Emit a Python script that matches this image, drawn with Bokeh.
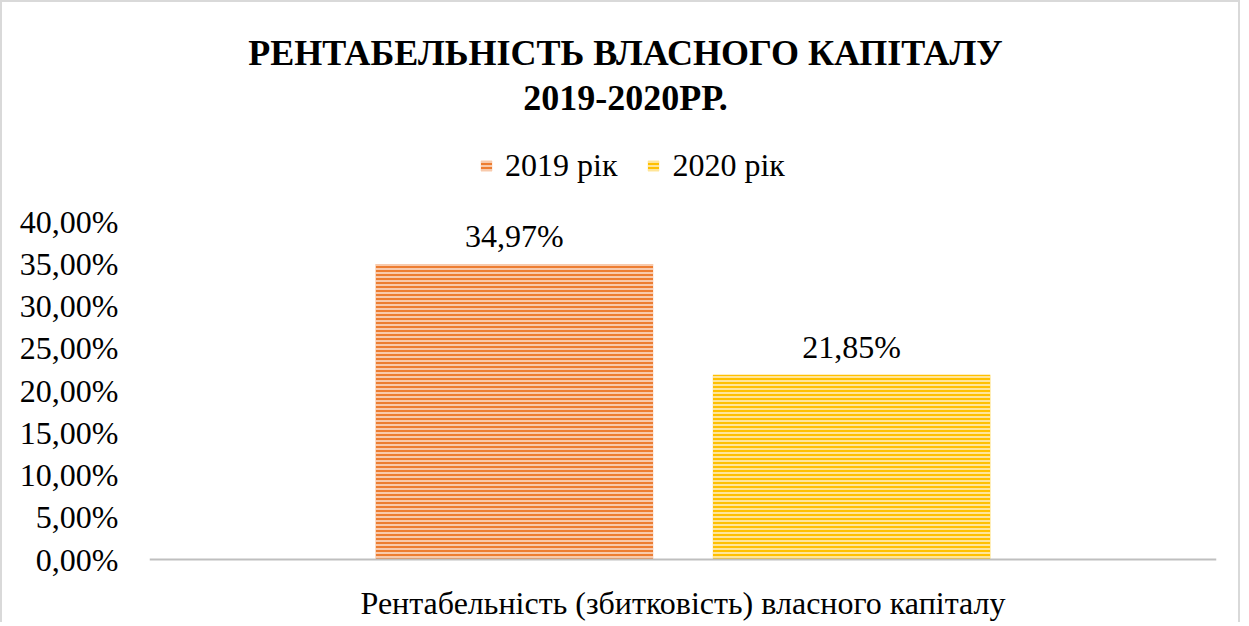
from bokeh.plotting import figure
from bokeh.models import ColumnDataSource, Legend, LegendItem, FixedTicker, LabelSet, Label
from bokeh.transform import dodge
from bokeh.embed import file_html
from bokeh.resources import INLINE

# ---- data ----
category = "Рентабельність (збитковість) власного капіталу"
series = ["2019 рік", "2020 рік"]
values = [34.97, 21.85]
colors_main = ["#ED7D31", "#FFC000"]
colors_light = ["#FCE4D6", "#FFF2CC"]
y_ticks = [0, 5, 10, 15, 20, 25, 30, 35, 40]
y_tick_labels = ["0,00%", "5,00%", "10,00%", "15,00%", "20,00%",
                 "25,00%", "30,00%", "35,00%", "40,00%"]
title_lines = ["РЕНТАБЕЛЬНІСТЬ ВЛАСНОГО КАПІТАЛУ", "2019-2020РР."]

FONT = "Liberation Serif"
FS = "32px"

# layout (pixels)
PX_PER_UNIT = 338 / 40
FRAME_H = 622
ZERO_FROM_TOP = 557
y_max = ZERO_FROM_TOP / PX_PER_UNIT
y_min = -(FRAME_H - ZERO_FROM_TOP) / PX_PER_UNIT

p = figure(x_range=[category], y_range=(y_min, y_max),
           width=1240, height=622, title=None,
           min_border_left=147, min_border_right=26,
           min_border_top=0, min_border_bottom=0,
           output_backend="svg", toolbar_location=None)

p.styles = {"border-left": "2px solid #D9D9D9",
            "border-top": "2px solid #D9D9D9",
            "border-right": "2px solid #D9D9D9"}

offsets = [-0.158, 0.158]
renderers = []
for i, (s, v) in enumerate(zip(series, values)):
    src = ColumnDataSource(dict(x=[category], top=[v],
                                label=[f"{v:.2f}".replace(".", ",") + "%"]))
    r = p.vbar(x=dodge("x", offsets[i], range=p.x_range), top="top", bottom=0, width=0.26,
               source=src, fill_color=colors_main[i], line_color=None,
               hatch_pattern="horizontal_line", hatch_color=colors_light[i],
               hatch_scale=4, hatch_weight=1.5)
    renderers.append(r)
    labels = LabelSet(x=dodge("x", offsets[i], range=p.x_range), y="top", text="label",
                      source=src, text_align="center", text_baseline="bottom",
                      y_offset=10, text_font=FONT, text_font_size=FS,
                      text_color="#000000")
    p.add_layout(labels)

legend = Legend(items=[LegendItem(label=s, renderers=[r]) for s, r in zip(series, renderers)],
                orientation="horizontal", location=(330, 440),
                label_text_font=FONT, label_text_font_size=FS,
                label_text_color="#000000",
                glyph_width=14, glyph_height=13, label_standoff=12, spacing=29,
                border_line_color=None, background_fill_alpha=0,
                padding=0, margin=0)
p.add_layout(legend, "center")

for line, ypos in zip(title_lines, [572, 527]):
    p.add_layout(Label(x=476, y=ypos, x_units="screen", y_units="screen",
                       text=line, text_align="center", text_baseline="middle",
                       text_font=FONT, text_font_size="36px", text_font_style="bold",
                       text_color="#000000"))

p.xgrid.grid_line_color = None
p.ygrid.grid_line_color = None
p.outline_line_color = None

p.xaxis.fixed_location = 0
p.xaxis.axis_line_color = "#BFBFBF"
p.xaxis.axis_line_width = 2
p.xaxis.major_tick_line_color = None
p.xaxis.minor_tick_line_color = None
p.xaxis.major_tick_out = 0
p.xaxis.major_tick_in = 0
p.xaxis.major_label_text_font = FONT
p.xaxis.major_label_text_font_size = FS
p.xaxis.major_label_text_color = "#000000"
p.xaxis.major_label_standoff = 25

p.yaxis.axis_line_color = None
p.yaxis.major_tick_line_color = None
p.yaxis.minor_tick_line_color = None
p.yaxis.major_tick_out = 0
p.yaxis.major_tick_in = 0
p.yaxis.ticker = FixedTicker(ticks=y_ticks)
p.yaxis.major_label_overrides = {t: l for t, l in zip(y_ticks, y_tick_labels)}
p.yaxis.major_label_text_font = FONT
p.yaxis.major_label_text_font_size = FS
p.yaxis.major_label_text_color = "#000000"
p.yaxis.major_label_standoff = 31

p.x_range.range_padding = 0

open("out.html", "w").write(file_html(p, INLINE))
